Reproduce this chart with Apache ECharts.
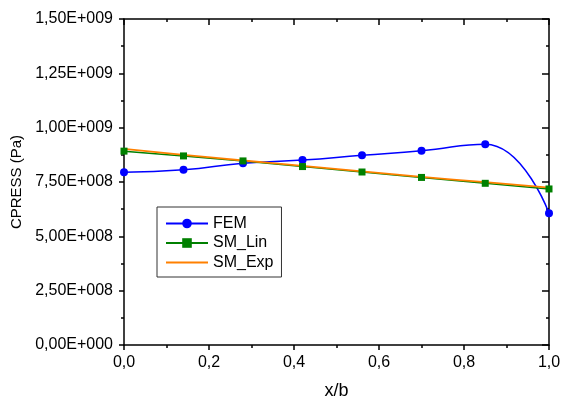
<!DOCTYPE html>
<html>
<head>
<meta charset="utf-8">
<script src="https://cdn.jsdelivr.net/npm/echarts@6/dist/echarts.min.js"></script>
<style>
html,body{margin:0;padding:0;background:#fff;}
#chart{width:564px;height:405px;}
</style>
</head>
<body>
<div id="chart"></div>
<script>
var xValues = [0, 0.14, 0.28, 0.42, 0.56, 0.70, 0.85, 1.0];
var femValues = [7.95e8, 8.06e8, 8.36e8, 8.51e8, 8.73e8, 8.94e8, 9.24e8, 6.06e8];
var smLinValues = [8.92e8, 8.70e8, 8.47e8, 8.21e8, 7.96e8, 7.71e8, 7.44e8, 7.18e8];
var smExpValues = [9.02e8, 8.75e8, 8.49e8, 8.24e8, 7.99e8, 7.74e8, 7.49e8, 7.24e8];
var seriesNames = ['FEM', 'SM_Lin', 'SM_Exp'];
var xAxisTitle = 'x/b';
var yAxisTitle = 'CPRESS (Pa)';

function pairs(ys) { return xValues.map(function (x, i) { return [x, ys[i]]; }); }
function fmtY(v) {
  if (v === 0) return '0,00E+000';
  var e = Math.floor(Math.log10(v) + 1e-9);
  var m = v / Math.pow(10, e);
  var es = String(e); while (es.length < 3) es = '0' + es;
  return m.toFixed(2).replace('.', ',') + 'E+' + es;
}
function fmtX(v) { return v.toFixed(1).replace('.', ','); }

var font = 'Liberation Sans, Arial, sans-serif';
var axisLine = { show: true, onZero: false, lineStyle: { color: '#000', width: 1.5 } };
var lineIcon = 'path://M0,0L0.01,0L0.01,0.01L0,0.01ZM0,5.1L42,5.1L42,6.9L0,6.9ZM0,11.99L0.01,11.99L0.01,12L0,12Z';

var chart = echarts.init(document.getElementById('chart'), null, { renderer: 'canvas' });
chart.setOption({
  animation: false,
  backgroundColor: '#fff',
  grid: { left: 124, right: 15, top: 19, bottom: 56, containLabel: false },
  legend: {
    orient: 'vertical',
    left: 157, top: 207,
    padding: [8.5, 8, 6.5, 8],
    itemWidth: 42, itemHeight: 12, itemGap: 3.5,
    borderColor: '#333', borderWidth: 1, borderRadius: 0,
    backgroundColor: '#fff',
    textStyle: { fontFamily: font, fontSize: 16, color: '#000' },
    data: [{ name: seriesNames[0] }, { name: seriesNames[1] }, { name: seriesNames[2], icon: lineIcon }]
  },
  xAxis: [
    {
      type: 'value', position: 'bottom', min: 0, max: 1, interval: 0.2,
      axisLine: axisLine,
      axisTick: { show: true, inside: false, length: 5, lineStyle: { color: '#000', width: 1.5 } },
      minorTick: { show: true, splitNumber: 2, length: 3, lineStyle: { color: '#000', width: 1.5 } },
      splitLine: { show: false },
      axisLabel: { formatter: fmtX, fontFamily: font, fontSize: 16, color: '#000', margin: 10 },
      name: xAxisTitle, nameLocation: 'middle', nameGap: 37,
      nameTextStyle: { fontFamily: font, fontSize: 18, color: '#000' }
    },
    {
      type: 'value', position: 'top', min: 0, max: 1, interval: 0.2,
      axisLine: axisLine,
      axisTick: { show: true, inside: true, length: 6, lineStyle: { color: '#000', width: 1.5 } },
      minorTick: { show: true, splitNumber: 2, length: 3, lineStyle: { color: '#000', width: 1.5 } },
      splitLine: { show: false },
      axisLabel: { show: false }
    }
  ],
  yAxis: [
    {
      type: 'value', position: 'left', min: 0, max: 1.5e9, interval: 2.5e8,
      axisLine: axisLine,
      axisTick: { show: true, inside: false, length: 5, lineStyle: { color: '#000', width: 1.5 } },
      minorTick: { show: true, splitNumber: 2, length: 3, lineStyle: { color: '#000', width: 1.5 } },
      splitLine: { show: false },
      axisLabel: { formatter: fmtY, fontFamily: font, fontSize: 16, color: '#000', margin: 11 },
      name: yAxisTitle, nameLocation: 'middle', nameGap: 94, nameRotate: 90,
      nameTextStyle: { fontFamily: font, fontSize: 15, color: '#000' }
    },
    {
      type: 'value', position: 'right', min: 0, max: 1.5e9, interval: 2.5e8,
      axisLine: axisLine,
      axisTick: { show: true, inside: true, length: 7, lineStyle: { color: '#000', width: 1.5 } },
      minorTick: { show: true, splitNumber: 2, length: 3, lineStyle: { color: '#000', width: 1.5 } },
      splitLine: { show: false },
      axisLabel: { show: false }
    }
  ],
  series: [
    {
      name: seriesNames[0], type: 'line', data: pairs(femValues),
      smooth: 0.5, symbol: 'circle', symbolSize: 8,
      lineStyle: { color: '#0000ff', width: 1.5 },
      itemStyle: { color: '#0000ff' }
    },
    {
      name: seriesNames[1], type: 'line', data: pairs(smLinValues),
      symbol: 'rect', symbolSize: 7,
      lineStyle: { color: '#008000', width: 1.5 },
      itemStyle: { color: '#008000' }
    },
    {
      name: seriesNames[2], type: 'line', data: pairs(smExpValues),
      symbol: 'none', smooth: true,
      lineStyle: { color: '#ff8000', width: 1.8 },
      itemStyle: { color: '#ff8000' }
    }
  ]
});
</script>
</body>
</html>
